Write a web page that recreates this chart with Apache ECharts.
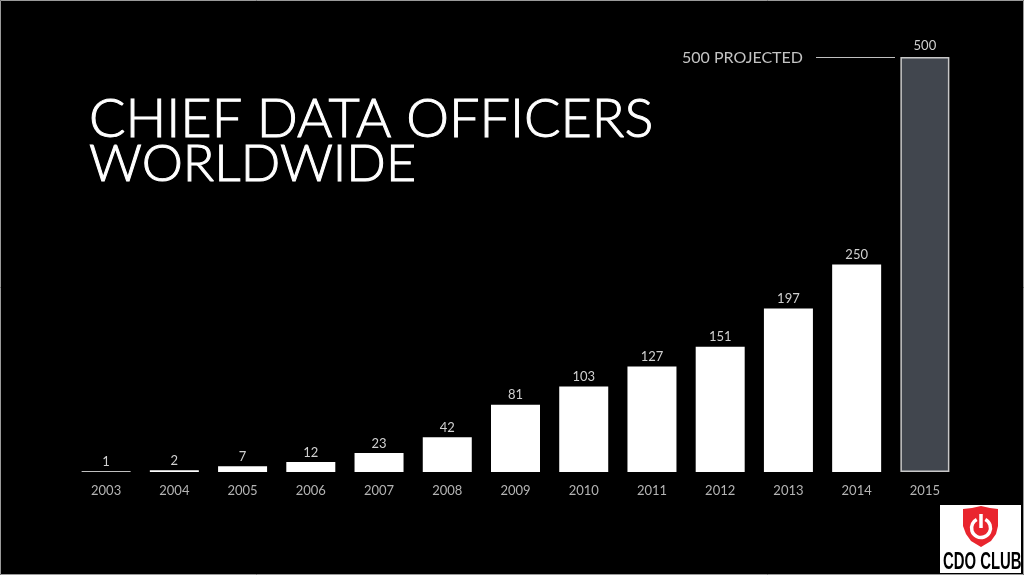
<!DOCTYPE html>
<html>
<head>
<meta charset="utf-8">
<title>Chief Data Officers Worldwide</title>
<script src="https://cdn.jsdelivr.net/npm/echarts@6/dist/echarts.min.js"></script>
<style>
  html, body { margin: 0; padding: 0; background: #000; }
  #chart { width: 1024px; height: 575px; }
</style>
</head>
<body>
<div id="chart"></div>
<script>
var years = ['2003', '2004', '2005', '2006', '2007', '2008', '2009', '2010', '2011', '2012', '2013', '2014', '2015'];
var officers = [1, 2, 7, 12, 23, 42, 81, 103, 127, 151, 197, 250, 500];
var projectedYear = '2015';
var titleTop = 'CHIEF DATA OFFICERS';
var titleBottom = 'WORLDWIDE';

var mychart = echarts.init(document.getElementById('chart'), null, { renderer: 'canvas' });

var barData = officers.map(function (v, i) {
  if (years[i] === projectedYear) {
    return {
      value: v,
      itemStyle: { color: '#41464e', borderColor: '#c8c8c8', borderWidth: 1.5 },
      label: { distance: 5 }
    };
  }
  return { value: v };
});

var option = {
  backgroundColor: '#000',
  animation: false,
  textStyle: { fontFamily: 'Lato' },
  title: {
    text: '{a|' + titleTop + '}\n{b|' + titleBottom + '}',
    left: 84,
    top: 92,
    textStyle: {
      rich: {
        a: { color: '#fff', fontFamily: 'Lato', fontWeight: 300, fontSize: 54, lineHeight: 45, textBorderColor: '#fff', textBorderWidth: 1 },
        b: { color: '#fff', fontFamily: 'Lato', fontWeight: 300, fontSize: 52, lineHeight: 45, textBorderColor: '#fff', textBorderWidth: 1 }
      }
    }
  },
  grid: { left: 72, right: 65, top: 57, bottom: 103 },
  xAxis: {
    type: 'category',
    data: years,
    axisLine: { show: false },
    axisTick: { show: false },
    axisLabel: { color: '#b4b4b4', fontSize: 13, margin: 12 }
  },
  yAxis: {
    type: 'value',
    min: 0,
    max: 500,
    show: false,
    splitLine: { show: false }
  },
  series: [{
    type: 'bar',
    data: barData,
    barWidth: 49,
    itemStyle: { color: '#fff' },
    label: { show: true, position: 'top', distance: 3, color: '#d0d0d0', fontSize: 13 }
  }],
  graphic: [
    // thin frame round the slide
    { type: 'rect', shape: { x: 0.5, y: 0.5, width: 1023, height: 574 }, style: { fill: null, stroke: '#9a9a9a', lineWidth: 1 } },
    { type: 'text', left: 682, top: 50, style: { text: '500 PROJECTED', fill: '#c4c4c4', font: '16px Lato' } },
    { type: 'line', shape: { x1: 816, y1: 57.5, x2: 895, y2: 57.5 }, style: { stroke: '#c0c0c0', lineWidth: 1 } },
    // logo bottom right
    { type: 'rect', shape: { x: 940, y: 505, width: 81, height: 68 }, style: { fill: '#fff' } },
    {
      type: 'polygon',
      shape: { points: [[963, 509], [972, 508], [981, 506], [990, 508], [998, 509], [998, 526], [996, 534], [991, 541], [981, 547], [971, 541], [966, 534], [963, 526]] },
      style: { fill: '#e9252e' }
    },
    { type: 'arc', shape: { cx: 981, cy: 528, r: 9.5, startAngle: -1.1, endAngle: 4.24 }, style: { stroke: '#fff', lineWidth: 3.5, fill: null } },
    { type: 'line', shape: { x1: 981, y1: 514, x2: 981, y2: 528 }, style: { stroke: '#fff', lineWidth: 3.5 } },
    { type: 'text', x: 943, y: 550, scaleX: 0.62, style: { text: 'CDO CLUB', fill: '#000', font: 'bold 24px "Liberation Sans"' } }
  ]
};

mychart.setOption(option);
</script>
</body>
</html>
